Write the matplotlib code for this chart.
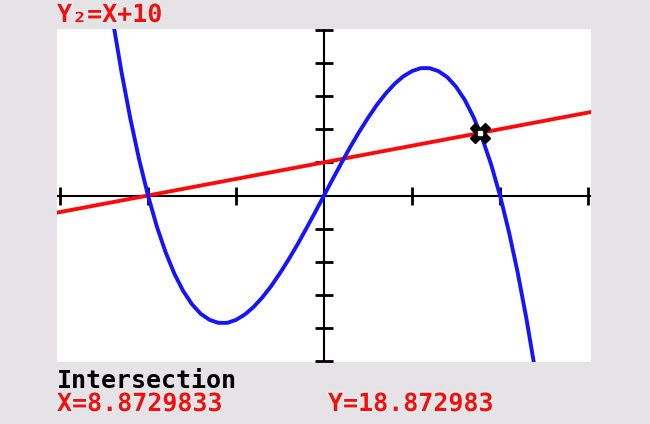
import matplotlib.pyplot as plt
import matplotlib.patheffects as pe

# values (window -15..15, -50..50), half-unit steps
blue_x = [-12.5, -12, -11.5, -11, -10.5, -10, -9.5, -9, -8.5, -8, -7.5, -7, -6.5, -6, -5.5, -5,
          -4.5, -4, -3.5, -3, -2.5, -2, -1.5, -1, -0.5, 0,
          0.5, 1, 1.5, 2, 2.5, 3, 3.5, 4, 4.5, 5, 5.5, 6, 6.5, 7, 7.5, 8,
          8.5, 9, 9.5, 10, 10.5, 11, 11.5, 12, 12.5]
blue_y = [70.3, 52.8, 37.1, 23.1, 10.8, 0, -9.3, -17.1, -23.6, -28.8, -32.8, -35.7, -37.5, -38.4, -38.4, -37.5,
          -35.9, -33.6, -30.7, -27.3, -23.4, -19.2, -14.7, -9.9, -5.0, 0,
          5.0, 9.9, 14.7, 19.2, 23.4, 27.3, 30.7, 33.6, 35.9, 37.5, 38.4, 38.4, 37.5, 35.7, 32.8, 28.8,
          23.6, 17.1, 9.3, 0, -10.8, -23.1, -37.1, -52.8, -70.3]
red_x = [-15.2, 15.2]
red_y = [-5.2, 25.2]
x_ticks = [-15, -10, -5, 5, 10, 15]
y_ticks = [-50, -40, -30, -20, -10, 10, 20, 30, 40, 50]
isect_x = 8.8729833
isect_y = 18.872983

bg = '#e6e3e7'
red = '#ff0a0a'
blue = '#1414ff'

fig = plt.figure(figsize=(6.5, 4.24), dpi=100, facecolor=bg)
ax = fig.add_axes([57 / 650, 62 / 424, 534 / 650, 333 / 424])
ax.set_facecolor('white')
ax.set_xlim(-15.17, 15.17)
ax.set_ylim(-50.2, 50.2)
for s in ax.spines.values():
    s.set_visible(False)
ax.set_xticks([])
ax.set_yticks([])

# axes with tick marks
ax.axhline(0, color='black', lw=1.5, zorder=1)
ax.axvline(0, color='black', lw=1.5, zorder=1)
ax.plot(x_ticks, [0] * len(x_ticks), ls='none', marker='|', ms=13, mew=2, color='black', zorder=1, clip_on=False)
ax.plot([0] * len(y_ticks), y_ticks, ls='none', marker='_', ms=13, mew=2, color='black', zorder=1, clip_on=False)

ax.plot(red_x, red_y, color=red, lw=2.8, zorder=2)
ax.plot(blue_x, blue_y, color=blue, lw=2.8, zorder=3, solid_joinstyle='round')

# intersection cursor
ax.plot(isect_x, isect_y, marker='X', ms=14, color='black', mec='black', zorder=4)
ax.plot(isect_x, isect_y, marker='s', ms=3.5, color='white', mec='white', zorder=5)

glow = [pe.withStroke(linewidth=2, foreground='#d6f2f2')]
font = dict(family='DejaVu Sans Mono', weight='bold', fontsize=18)
fig.text(57 / 650, 1 - 22 / 424, 'Y\u2082=X+10', color=red, path_effects=glow, **font)
fig.text(57 / 650, 1 - 388 / 424, 'Intersection', color='black', **font)
fig.text(57 / 650, 1 - 411 / 424, 'X=8.8729833', color=red, path_effects=glow, **font)
fig.text(328 / 650, 1 - 411 / 424, 'Y=18.872983', color=red, path_effects=glow, **font)

fig.savefig('out.png', dpi=100, facecolor=bg)
